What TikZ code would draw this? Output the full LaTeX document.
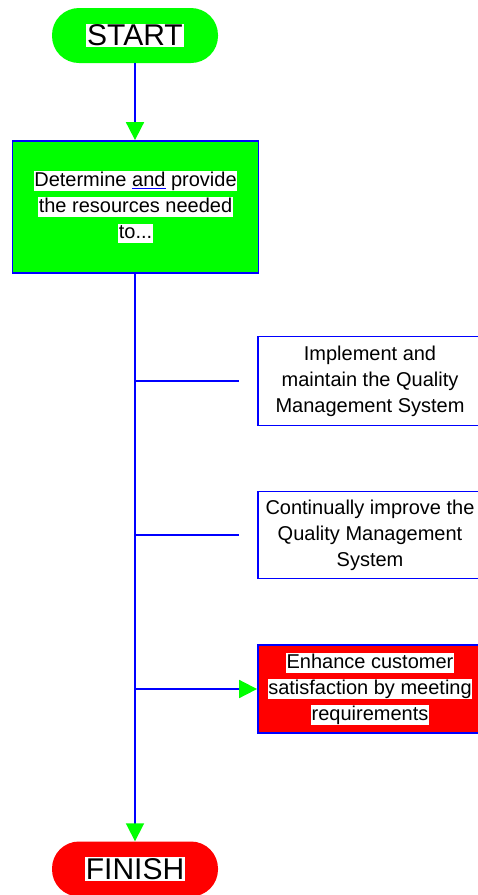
\documentclass[tikz,border=0pt]{standalone}
\usepackage{fontspec}
\setmainfont{Liberation Sans}
\usetikzlibrary{arrows.meta}
\definecolor{qgreen}{RGB}{0,255,0}
\definecolor{qred}{RGB}{255,0,0}
\definecolor{qblue}{RGB}{0,0,255}
% white highlight behind a line of text
\newcommand{\hlbox}[1]{{\setlength{\fboxsep}{0.6pt}\colorbox{white}{\vphantom{Ag}#1}}}
\newcommand{\capbox}[1]{{\setlength{\fboxsep}{1pt}\colorbox{white}{#1}}}
\newcommand{\blueul}[1]{{\color{qblue}$\underline{\hbox{\color{black}#1}}$}}
\begin{document}
\begin{tikzpicture}[x=1pt,y=-1pt,
  term/.style={rounded corners=27pt, minimum width=166pt, minimum height=55pt,
    inner sep=0pt, font=\fontsize{30}{30}\selectfont},
  procbox/.style={draw=qblue, line width=1.8pt, align=center, inner sep=0pt,
    font=\fontsize{20}{26}\selectfont},
  flow/.style={draw=qblue, line width=1.8pt},
  tip/.style={-{Triangle[length=18pt,width=18pt,color=qgreen]}}]
  \useasboundingbox (0,0) rectangle (478,895);

  % terminals
  \node[term, fill=qgreen] (start) at (135,35.5) {\capbox{START}};
  \node[term, fill=qred] (finish) at (135,869) {\capbox{FINISH}};

  % main process
  \node[procbox, fill=qgreen, minimum width=246pt, minimum height=132pt]
    (res) at (135.5,207)
    {\hlbox{Determine \blueul{and} provide}\\
     \hlbox{the resources needed}\\
     \hlbox{to...}};

  % branch processes
  \node[procbox, fill=white, minimum width=224pt, minimum height=89pt]
    (impl) at (370,381)
    {Implement and\\maintain the Quality\\Management System};
  \node[procbox, fill=white, minimum width=224pt, minimum height=87pt]
    (cont) at (370,535)
    {Continually improve the\\Quality Management\\System};
  \node[procbox, fill=qred, minimum width=224pt, minimum height=88pt]
    (enh) at (370,689)
    {\hlbox{Enhance customer}\\
     \hlbox{satisfaction by meeting}\\
     \hlbox{requirements}};

  % connectors
  \draw[flow, tip] (start.south) -- (start.south |- res.north);
  \draw[flow, tip] (res.south -| start.south) -- (finish.north);
  \draw[flow, shorten >=18pt] (start.south |- impl.west) -- (impl.west);
  \draw[flow, shorten >=18pt] (start.south |- cont.west) -- (cont.west);
  \draw[flow, tip] (start.south |- enh.west) -- (enh.west);
\end{tikzpicture}
\end{document}
